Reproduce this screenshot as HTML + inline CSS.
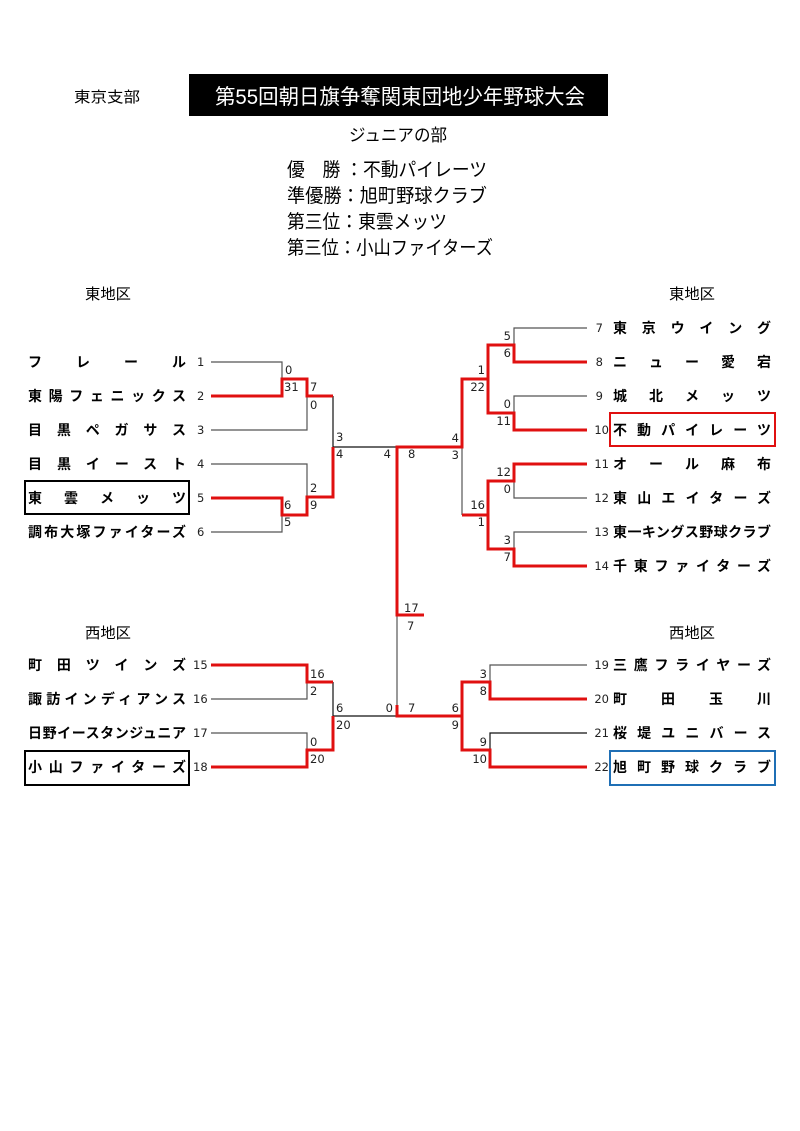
<!DOCTYPE html>
<html><head><meta charset="utf-8"><style>
html,body{margin:0;padding:0;background:#fff;width:800px;height:1131px;overflow:hidden}
svg{display:block}
.n{font-family:"Liberation Sans","Noto Sans CJK JP",sans-serif;font-weight:bold;font-size:14px;fill:#000}
.s{font-family:"DejaVu Sans","Liberation Sans",sans-serif;font-size:11.5px;fill:#222}
.h{font-family:"Liberation Sans","Noto Sans CJK JP",sans-serif;fill:#000}
.k{stroke:#555;stroke-width:1.2;fill:none}
.r{stroke:#e01010;stroke-width:3;fill:none}
</style></head><body>
<svg width="800" height="1131" viewBox="0 0 800 1131" xmlns="http://www.w3.org/2000/svg">
<text class="h" x="74" y="102" font-size="15" textLength="66" lengthAdjust="spacingAndGlyphs">東京支部</text>
<rect x="189" y="74" width="419" height="42" fill="#000"/>
<text class="h" x="215" y="104" font-size="21" style="fill:#fff" textLength="370" lengthAdjust="spacingAndGlyphs">第55回朝日旗争奪関東団地少年野球大会</text>
<text class="h" x="349" y="141" font-size="17" textLength="98" lengthAdjust="spacingAndGlyphs">ジュニアの部</text>
<text class="h" x="287" y="176" font-size="19" textLength="200" lengthAdjust="spacingAndGlyphs">優　勝 ：不動パイレーツ</text>
<text class="h" x="287" y="202" font-size="19" textLength="200" lengthAdjust="spacingAndGlyphs">準優勝：旭町野球クラブ</text>
<text class="h" x="287" y="228" font-size="19" textLength="160" lengthAdjust="spacingAndGlyphs">第三位：東雲メッツ</text>
<text class="h" x="287" y="254" font-size="19" textLength="206" lengthAdjust="spacingAndGlyphs">第三位：小山ファイターズ</text>
<text class="h" x="85" y="299" font-size="15" textLength="46" lengthAdjust="spacingAndGlyphs">東地区</text>
<text class="h" x="669" y="299" font-size="15" textLength="46" lengthAdjust="spacingAndGlyphs">東地区</text>
<text class="h" x="85" y="638" font-size="15" textLength="46" lengthAdjust="spacingAndGlyphs">西地区</text>
<text class="h" x="669" y="638" font-size="15" textLength="46" lengthAdjust="spacingAndGlyphs">西地区</text>

<g class="n">
<text x="28" y="367" textLength="158" lengthAdjust="spacing">フレール</text>
<text x="28" y="401" textLength="158" lengthAdjust="spacing">東陽フェニックス</text>
<text x="28" y="435" textLength="158" lengthAdjust="spacing">目黒ペガサス</text>
<text x="28" y="469" textLength="158" lengthAdjust="spacing">目黒イースト</text>
<text x="28" y="503" textLength="158" lengthAdjust="spacing">東雲メッツ</text>
<text x="28" y="537" textLength="158" lengthAdjust="spacing">調布大塚ファイターズ</text>
<text x="28" y="670" textLength="158" lengthAdjust="spacing">町田ツインズ</text>
<text x="28" y="704" textLength="158" lengthAdjust="spacing">諏訪インディアンス</text>
<text x="28" y="738" textLength="158" lengthAdjust="spacing">日野イースタンジュニア</text>
<text x="28" y="772" textLength="158" lengthAdjust="spacing">小山ファイターズ</text>
<text x="613" y="333" textLength="158" lengthAdjust="spacing">東京ウイング</text>
<text x="613" y="367" textLength="158" lengthAdjust="spacing">ニュー愛宕</text>
<text x="613" y="401" textLength="158" lengthAdjust="spacing">城北メッツ</text>
<text x="613" y="435" textLength="158" lengthAdjust="spacing">不動パイレーツ</text>
<text x="613" y="469" textLength="158" lengthAdjust="spacing">オール麻布</text>
<text x="613" y="503" textLength="158" lengthAdjust="spacing">東山エイターズ</text>
<text x="613" y="537" textLength="158" lengthAdjust="spacing">東一キングス野球クラブ</text>
<text x="613" y="571" textLength="158" lengthAdjust="spacing">千東ファイターズ</text>
<text x="613" y="670" textLength="158" lengthAdjust="spacing">三鷹フライヤーズ</text>
<text x="613" y="704" textLength="158" lengthAdjust="spacing">町田玉川</text>
<text x="613" y="738" textLength="158" lengthAdjust="spacing">桜堤ユニバース</text>
<text x="613" y="772" textLength="158" lengthAdjust="spacing">旭町野球クラブ</text>
</g>
<rect x="25" y="481" width="164" height="33" fill="none" stroke="#000" stroke-width="2"/>
<rect x="25" y="751" width="164" height="34" fill="none" stroke="#000" stroke-width="2"/>
<rect x="610" y="413" width="165" height="33" fill="none" stroke="#e01010" stroke-width="2"/>
<rect x="610" y="751" width="165" height="34" fill="none" stroke="#1f6fb5" stroke-width="2"/>

<g class="s">
<text x="197" y="366">1</text><text x="197" y="400">2</text><text x="197" y="434">3</text>
<text x="197" y="468">4</text><text x="197" y="502">5</text><text x="197" y="536">6</text>
<text x="193" y="669">15</text><text x="193" y="703">16</text><text x="193" y="737">17</text><text x="193" y="771">18</text>
</g>
<g class="s" text-anchor="end">
<text x="603" y="332">7</text><text x="603" y="366">8</text><text x="603" y="400">9</text><text x="609" y="434">10</text>
<text x="609" y="468">11</text><text x="609" y="502">12</text><text x="609" y="536">13</text><text x="609" y="570">14</text>
<text x="609" y="669">19</text><text x="609" y="703">20</text><text x="609" y="737">21</text><text x="609" y="771">22</text>
</g>

<g class="k">
<path d="M211 362H282V396"/><path d="M211 396H282"/>
<path d="M211 430H307V379"/>
<path d="M211 464H307V497"/>
<path d="M211 532H282V498"/>
<path d="M333 396V447H397" stroke="#111"/>
<path d="M587 328H514V362"/><path d="M587 396H514V430"/>
<path d="M587 498H514V464"/><path d="M587 532H514V566"/>
<path d="M488 345V413"/><path d="M488 481V549"/>
<path d="M462 447V515"/>
<path d="M397 615V716"/>
<path d="M211 699H307V665"/><path d="M211 733H307V767"/>
<path d="M333 682V716H397" stroke="#111"/>
<path d="M587 665H490V699"/><path d="M587 733H490V767" stroke="#111"/>
</g>
<g class="r">
<path d="M211 396H282V379H307V396H333"/>
<path d="M211 498H282V515H307V497H333V447"/>
<path d="M587 362H514V345H488V413H514V430H587"/>
<path d="M488 379H462V447H397V615H424"/>
<path d="M587 464H514V481H488V515H462"/>
<path d="M587 566H514V549H488V515"/>
<path d="M211 665H307V682H333"/>
<path d="M211 767H307V750H333V716"/>
<path d="M397 705V716H462V682H490V699H587"/>
<path d="M462 716V750H490V767H587"/>
</g>

<g class="s">
<text x="285" y="374">0</text><text x="284" y="391">31</text><text x="310" y="391">7</text><text x="310" y="409">0</text>
<text x="336" y="441">3</text><text x="336" y="458">4</text><text x="408" y="458">8</text>
<text x="310" y="492">2</text><text x="310" y="509">9</text><text x="284" y="509">6</text><text x="284" y="526">5</text>
<text x="404" y="612">17</text><text x="407" y="630">7</text><text x="408" y="712">7</text>
<text x="310" y="678">16</text><text x="310" y="695">2</text><text x="336" y="712">6</text><text x="336" y="729">20</text>
<text x="310" y="746">0</text><text x="310" y="763">20</text>
</g>
<g class="s" text-anchor="end">
<text x="391" y="458">4</text><text x="393" y="712">0</text>
<text x="511" y="340">5</text><text x="511" y="357">6</text><text x="485" y="374">1</text><text x="485" y="391">22</text>
<text x="511" y="408">0</text><text x="511" y="425">11</text><text x="459" y="442">4</text><text x="459" y="459">3</text>
<text x="511" y="476">12</text><text x="511" y="493">0</text><text x="485" y="509">16</text><text x="485" y="526">1</text>
<text x="511" y="544">3</text><text x="511" y="561">7</text>
<text x="487" y="678">3</text><text x="487" y="695">8</text><text x="459" y="712">6</text><text x="459" y="729">9</text>
<text x="487" y="746">9</text><text x="487" y="763">10</text>
</g>
</svg>
</body></html>
